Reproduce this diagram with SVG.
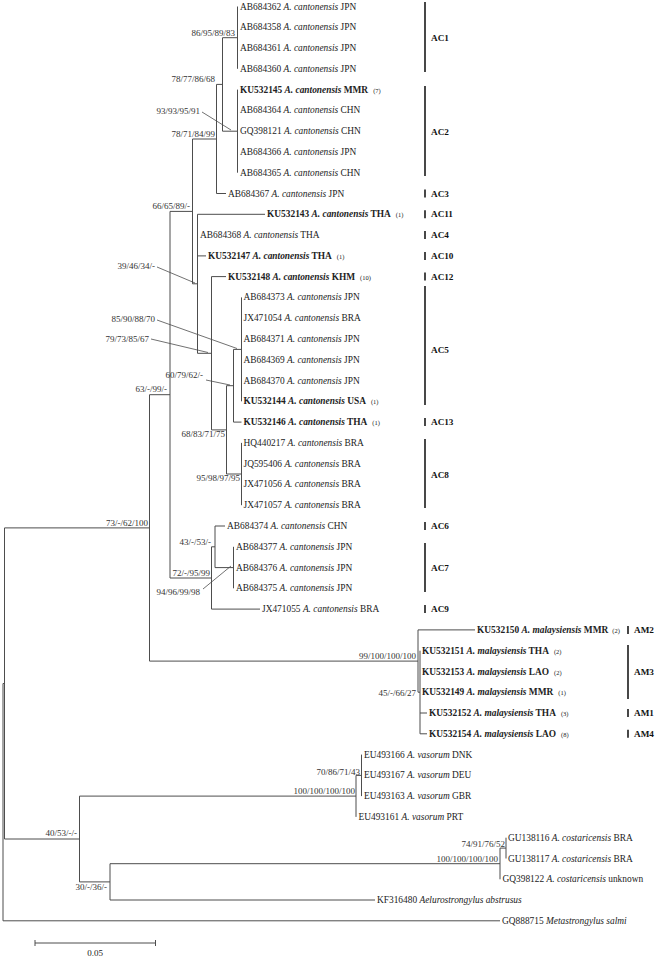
<svg xmlns="http://www.w3.org/2000/svg" width="663" height="959" viewBox="0 0 663 959">
<style>
.e{stroke:#4d4d4d;stroke-width:1;fill:none}
.l{stroke:#4d4d4d;stroke-width:0.8;fill:none}
.bar{stroke:#1a1a1a;stroke-width:1.6}
text{font-family:"Liberation Serif","Times New Roman",serif;font-size:9.4px;fill:#222}
.b{font-weight:bold}
.i{font-style:italic}
.n{font-size:6.5px;font-weight:normal}
.s{text-anchor:end;fill:#333;font-size:9px}
.g{font-weight:bold;fill:#111;font-size:9.2px}
</style>
<rect width="663" height="959" fill="#fff"/>
<g id="connectors">
<path class="e" d="M3 683.5V920.8M3 683.5H4.5M3 920.8H500
M4.5 527.9V839M4.5 527.9H149.5M4.5 839H79.5
M149.5 394.7V661.1M149.5 394.7H170M149.5 661.1H418
M170 211.4V578M170 211.4H192.5M170 578H211.5
M192.5 139V283.8M192.5 139H216.5M192.5 283.8H197.5
M216.5 84.4V193.5M216.5 84.4H222.5M216.5 193.5H226
M222.5 37.7V131.2M222.5 37.7H237.5M222.5 131.2H237.5
M237.5 6.5V68.8M237.5 89.6V172.7
M197.5 214.3V353.3M197.5 214.3H265M197.5 255.9H206M197.5 353.3H211.5
M211.5 276.6V429.9M211.5 276.6H226M211.5 429.9H226.5
M226.5 385.7V474M226.5 385.7H233.5M226.5 474H241.5
M233.5 349.4V422.1M233.5 349.4H241.5M233.5 422.1H241.5
M241.5 297.4V401.3M241.5 442.9V505.2
M211.5 546.8V609.1M211.5 546.8H215M211.5 609.1H260
M215 526V567.6M215 526H225M215 567.6H233.5
M233.5 546.8V588.3
M418 629.9V692.2M418 629.9H475M418 692.2H420
M420 650.7V733.8M420 713H427M420 733.8H427
M79.5 796.1V881.9M79.5 796.1H356M79.5 881.9H110
M356 775.4V816.9M356 775.4H361.5M361.5 754.6V796.1
M110 863.7V900M110 863.7H500M110 900H375
M500 848.1V879.3M500 848.1H506M506 837.7V858.5"/>
<path class="l" d="M202 112L231 130M157 267L195 283M157 320L237 348.5M151 339L208 352.5M206 380L230 385M203 589L231 566"/>
</g>
<g id="supports">
<text class="s" x="235" y="35.5">86/95/89/83</text>
<text class="s" x="215" y="82">78/77/86/68</text>
<text class="s" x="200" y="114">93/93/95/91</text>
<text class="s" x="215" y="137">78/71/84/99</text>
<text class="s" x="190" y="208.5">66/65/89/-</text>
<text class="s" x="155" y="268.5">39/46/34/-</text>
<text class="s" x="155" y="322">85/90/88/70</text>
<text class="s" x="149" y="342">79/73/85/67</text>
<text class="s" x="203" y="378">60/79/62/-</text>
<text class="s" x="167" y="392">63/-/99/-</text>
<text class="s" x="225" y="437">68/83/71/75</text>
<text class="s" x="240" y="481">95/98/97/95</text>
<text class="s" x="148" y="525.5">73/-/62/100</text>
<text class="s" x="211" y="545">43/-/53/-</text>
<text class="s" x="210" y="575.5">72/-/95/99</text>
<text class="s" x="200" y="595">94/96/99/98</text>
<text class="s" x="416" y="659">99/100/100/100</text>
<text class="s" x="416" y="696">45/-/66/27</text>
<text class="s" x="360" y="774.5">70/86/71/43</text>
<text class="s" x="355" y="794">100/100/100/100</text>
<text class="s" x="505" y="846.5">74/91/76/52</text>
<text class="s" x="498" y="861.5">100/100/100/100</text>
<text class="s" x="107" y="889.5">30/-/36/-</text>
<text class="s" x="77" y="836">40/53/-/-</text>
</g>
<g id="leaf-AB684362"><text x="240" y="9.5">AB684362 <tspan class="i">A. cantonensis</tspan> JPN</text></g>
<g id="leaf-AB684358"><text x="240" y="30.3">AB684358 <tspan class="i">A. cantonensis</tspan> JPN</text></g>
<g id="leaf-AB684361"><text x="240" y="51.1">AB684361 <tspan class="i">A. cantonensis</tspan> JPN</text></g>
<g id="leaf-AB684360"><text x="240" y="71.8">AB684360 <tspan class="i">A. cantonensis</tspan> JPN</text></g>
<g id="leaf-KU532145"><text x="240" y="92.6" class="b">KU532145 <tspan class="i">A. cantonensis</tspan> MMR<tspan class="n" dx="5">(7)</tspan></text></g>
<g id="leaf-AB684364"><text x="240" y="113.4">AB684364 <tspan class="i">A. cantonensis</tspan> CHN</text></g>
<g id="leaf-GQ398121"><text x="240" y="134.2">GQ398121 <tspan class="i">A. cantonensis</tspan> CHN</text></g>
<g id="leaf-AB684366"><text x="240" y="155">AB684366 <tspan class="i">A. cantonensis</tspan> JPN</text></g>
<g id="leaf-AB684365"><text x="240" y="175.7">AB684365 <tspan class="i">A. cantonensis</tspan> CHN</text></g>
<g id="leaf-AB684367"><text x="228" y="196.5">AB684367 <tspan class="i">A. cantonensis</tspan> JPN</text></g>
<g id="leaf-KU532143"><text x="267" y="217.3" class="b">KU532143 <tspan class="i">A. cantonensis</tspan> THA<tspan class="n" dx="5">(1)</tspan></text></g>
<g id="leaf-AB684368"><text x="200" y="238.1">AB684368 <tspan class="i">A. cantonensis</tspan> THA</text></g>
<g id="leaf-KU532147"><text x="208" y="258.9" class="b">KU532147 <tspan class="i">A. cantonensis</tspan> THA<tspan class="n" dx="5">(1)</tspan></text></g>
<g id="leaf-KU532148"><text x="228" y="279.6" class="b">KU532148 <tspan class="i">A. cantonensis</tspan> KHM<tspan class="n" dx="5">(10)</tspan></text></g>
<g id="leaf-AB684373"><text x="243.5" y="300.4">AB684373 <tspan class="i">A. cantonensis</tspan> JPN</text></g>
<g id="leaf-JX471054"><text x="243.5" y="321.2">JX471054 <tspan class="i">A. cantonensis</tspan> BRA</text></g>
<g id="leaf-AB684371"><text x="243.5" y="342">AB684371 <tspan class="i">A. cantonensis</tspan> JPN</text></g>
<g id="leaf-AB684369"><text x="243.5" y="362.8">AB684369 <tspan class="i">A. cantonensis</tspan> JPN</text></g>
<g id="leaf-AB684370"><text x="243.5" y="383.5">AB684370 <tspan class="i">A. cantonensis</tspan> JPN</text></g>
<g id="leaf-KU532144"><text x="243.5" y="404.3" class="b">KU532144 <tspan class="i">A. cantonensis</tspan> USA<tspan class="n" dx="5">(1)</tspan></text></g>
<g id="leaf-KU532146"><text x="243.5" y="425.1" class="b">KU532146 <tspan class="i">A. cantonensis</tspan> THA<tspan class="n" dx="5">(1)</tspan></text></g>
<g id="leaf-HQ440217"><text x="243.5" y="445.9">HQ440217 <tspan class="i">A. cantonensis</tspan> BRA</text></g>
<g id="leaf-JQ595406"><text x="243.5" y="466.7">JQ595406 <tspan class="i">A. cantonensis</tspan> BRA</text></g>
<g id="leaf-JX471056"><text x="243.5" y="487.4">JX471056 <tspan class="i">A. cantonensis</tspan> BRA</text></g>
<g id="leaf-JX471057"><text x="243.5" y="508.2">JX471057 <tspan class="i">A. cantonensis</tspan> BRA</text></g>
<g id="leaf-AB684374"><text x="227" y="529">AB684374 <tspan class="i">A. cantonensis</tspan> CHN</text></g>
<g id="leaf-AB684377"><text x="236" y="549.8">AB684377 <tspan class="i">A. cantonensis</tspan> JPN</text></g>
<g id="leaf-AB684376"><text x="236" y="570.6">AB684376 <tspan class="i">A. cantonensis</tspan> JPN</text></g>
<g id="leaf-AB684375"><text x="236" y="591.3">AB684375 <tspan class="i">A. cantonensis</tspan> JPN</text></g>
<g id="leaf-JX471055"><text x="262" y="612.1">JX471055 <tspan class="i">A. cantonensis</tspan> BRA</text></g>
<g id="leaf-KU532150"><text x="477" y="632.9" class="b">KU532150 <tspan class="i">A. malaysiensis</tspan> MMR<tspan class="n" dx="4">(2)</tspan></text></g>
<g id="leaf-KU532151"><text x="422" y="653.7" class="b">KU532151 <tspan class="i">A. malaysiensis</tspan> THA<tspan class="n" dx="5">(2)</tspan></text></g>
<g id="leaf-KU532153"><text x="422" y="674.5" class="b">KU532153 <tspan class="i">A. malaysiensis</tspan> LAO<tspan class="n" dx="5">(2)</tspan></text></g>
<g id="leaf-KU532149"><text x="422" y="695.2" class="b">KU532149 <tspan class="i">A. malaysiensis</tspan> MMR<tspan class="n" dx="5">(1)</tspan></text></g>
<g id="leaf-KU532152"><text x="429" y="716" class="b">KU532152 <tspan class="i">A. malaysiensis</tspan> THA<tspan class="n" dx="5">(3)</tspan></text></g>
<g id="leaf-KU532154"><text x="429" y="736.8" class="b">KU532154 <tspan class="i">A. malaysiensis</tspan> LAO<tspan class="n" dx="5">(8)</tspan></text></g>
<g id="leaf-EU493166"><text x="364" y="757.6">EU493166 <tspan class="i">A. vasorum</tspan> DNK</text></g>
<g id="leaf-EU493167"><text x="364" y="778.4">EU493167 <tspan class="i">A. vasorum</tspan> DEU</text></g>
<g id="leaf-EU493163"><text x="364" y="799.1">EU493163 <tspan class="i">A. vasorum</tspan> GBR</text></g>
<g id="leaf-EU493161"><text x="358.5" y="819.9">EU493161 <tspan class="i">A. vasorum</tspan> PRT</text></g>
<g id="leaf-GU138116"><text x="508" y="840.7">GU138116 <tspan class="i">A. costaricensis</tspan> BRA</text></g>
<g id="leaf-GU138117"><text x="508" y="861.5">GU138117 <tspan class="i">A. costaricensis</tspan> BRA</text></g>
<g id="leaf-GQ398122"><text x="502.5" y="882.3">GQ398122 <tspan class="i">A. costaricensis</tspan> unknown</text></g>
<g id="leaf-KF316480"><text x="377" y="903">KF316480 <tspan class="i">Aelurostrongylus abstrusus</tspan></text></g>
<g id="leaf-GQ888715"><text x="502" y="923.8">GQ888715 <tspan class="i">Metastrongylus salmi</tspan></text></g>
<g id="clades">
<g id="AC1"><line class="bar" x1="425" y1="2" x2="425" y2="72"/><text class="g" x="431" y="41">AC1</text></g>
<g id="AC2"><line class="bar" x1="425" y1="86" x2="425" y2="176"/><text class="g" x="431" y="134.5">AC2</text></g>
<g id="AC3"><line class="bar" x1="425" y1="189.5" x2="425" y2="197.5"/><text class="g" x="431" y="196.5">AC3</text></g>
<g id="AC11"><line class="bar" x1="425" y1="210.3" x2="425" y2="218.3"/><text class="g" x="431" y="217.3">AC11</text></g>
<g id="AC4"><line class="bar" x1="425" y1="231.1" x2="425" y2="239.1"/><text class="g" x="431" y="238.1">AC4</text></g>
<g id="AC10"><line class="bar" x1="425" y1="251.9" x2="425" y2="259.9"/><text class="g" x="431" y="258.9">AC10</text></g>
<g id="AC12"><line class="bar" x1="425" y1="272.6" x2="425" y2="280.6"/><text class="g" x="431" y="279.6">AC12</text></g>
<g id="AC5"><line class="bar" x1="425" y1="286" x2="425" y2="405"/><text class="g" x="431" y="352.5">AC5</text></g>
<g id="AC13"><line class="bar" x1="425" y1="418.1" x2="425" y2="426.1"/><text class="g" x="431" y="425.1">AC13</text></g>
<g id="AC8"><line class="bar" x1="425" y1="439" x2="425" y2="508"/><text class="g" x="431" y="477.5">AC8</text></g>
<g id="AC6"><line class="bar" x1="425" y1="522" x2="425" y2="530"/><text class="g" x="431" y="529">AC6</text></g>
<g id="AC7"><line class="bar" x1="425" y1="543" x2="425" y2="592"/><text class="g" x="431" y="570.5">AC7</text></g>
<g id="AC9"><line class="bar" x1="425" y1="605.1" x2="425" y2="613.1"/><text class="g" x="431" y="612.1">AC9</text></g>
<g id="AM2"><line class="bar" x1="628" y1="625.9" x2="628" y2="633.9"/><text class="g" x="634" y="632.9">AM2</text></g>
<g id="AM3"><line class="bar" x1="628" y1="645" x2="628" y2="699"/><text class="g" x="634" y="674.5">AM3</text></g>
<g id="AM1"><line class="bar" x1="628" y1="709" x2="628" y2="717"/><text class="g" x="634" y="716">AM1</text></g>
<g id="AM4"><line class="bar" x1="628" y1="729.8" x2="628" y2="737.8"/><text class="g" x="634" y="736.8">AM4</text></g>
</g>
<g id="scale">
<path class="e" d="M35 943H155.5M35 940V946M155.5 940V946"/>
<text x="95" y="956" text-anchor="middle" style="font-size:9px">0.05</text>
</g>
</svg>
